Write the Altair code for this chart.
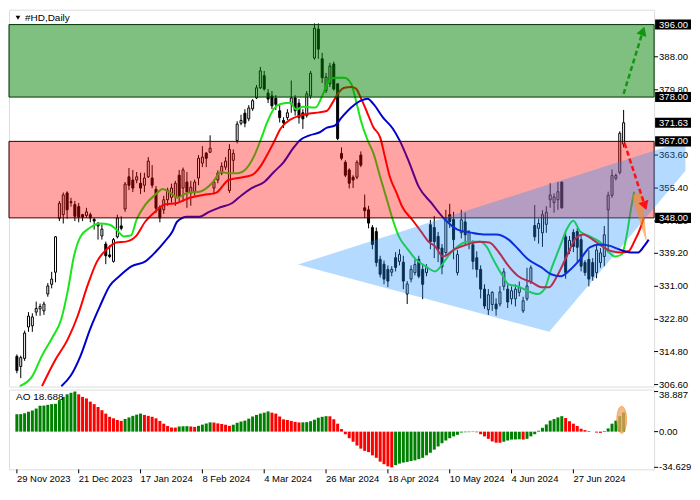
import altair as alt
import pandas as pd

# ---------------- data ----------------
OPEN = [313.6, 311.1, 313.1, 320.9, 321.2, 324.6, 325.4, 324.9, 329.1, 331.5,
        334.5, 347.9, 348.8, 354.2, 352.0, 351.3, 350.8, 348.8, 348.6, 348.8,
        347.6, 346.7, 343.5, 341.5, 338.8, 337.2, 343.3, 346.0, 350.2, 358.2,
        357.4, 357.4, 356.6, 356.1, 358.2, 357.9, 355.1, 350.7, 350.0, 352.5,
        353.1, 353.2, 358.6, 355.4, 356.9, 354.2, 354.4, 357.9, 361.6, 364.1,
        364.3, 355.4, 357.4, 359.1, 360.6, 354.8, 362.3, 367.2, 371.5, 374.0,
        372.6, 375.1, 377.8, 380.3, 383.3, 379.0, 378.3, 377.7, 374.6, 372.2,
        372.9, 376.3, 377.8, 376.5, 374.1, 373.4, 378.3, 387.7, 394.9, 387.5,
        379.6, 381.3, 386.2, 381.3, 364.0, 361.8, 359.9, 358.1, 358.1, 363.6,
        350.5, 350.0, 345.6, 344.6, 337.7, 336.5, 335.2, 334.5, 338.1, 337.2,
        337.0, 329.1, 332.8, 334.4, 337.7, 335.2, 334.4, 346.3, 345.6, 343.4,
        340.5, 339.4, 348.8, 347.6, 334.4, 344.3, 347.0, 342.0, 341.3, 338.1,
        335.2, 330.3, 325.2, 326.5, 326.6, 326.6, 331.0, 330.3, 327.9, 327.9,
        329.5, 324.9, 327.9, 332.2, 346.1, 345.4, 344.3, 346.4, 352.5, 351.8,
        352.5, 356.9, 343.3, 339.8, 344.4, 344.6, 342.6, 336.9, 337.7, 336.9,
        334.4, 336.9, 338.4, 350.0, 353.6, 357.8, 359.3, 366.3]
HIGH = [314.1, 313.8, 320.0, 324.6, 324.3, 327.2, 326.7, 327.2, 331.8, 334.6,
        343.5, 352.2, 354.3, 354.6, 353.0, 352.2, 351.7, 349.0, 350.5, 349.3,
        348.0, 346.9, 346.4, 342.1, 341.2, 343.0, 348.8, 348.4, 356.9, 360.4,
        359.9, 359.4, 359.2, 359.2, 363.1, 361.1, 355.9, 351.1, 353.5, 355.5,
        356.5, 357.2, 359.9, 360.5, 359.4, 357.2, 357.5, 363.6, 365.8, 364.3,
        368.5, 357.5, 359.8, 361.8, 363.1, 366.3, 365.0, 372.0, 373.6, 375.0,
        376.0, 377.5, 381.0, 385.5, 384.5, 380.0, 379.5, 378.5, 376.0, 373.0,
        375.0, 382.1, 378.5, 377.5, 375.0, 379.5, 384.5, 396.3, 396.3, 389.0,
        384.0, 386.5, 386.8, 381.3, 365.5, 362.3, 360.3, 358.6, 362.3, 364.5,
        353.8, 351.0, 346.2, 345.6, 338.6, 337.4, 336.2, 336.0, 339.5, 340.2,
        338.6, 332.3, 336.2, 337.7, 338.6, 336.4, 336.5, 347.5, 348.5, 344.5,
        341.5, 350.0, 351.5, 349.5, 340.0, 350.0, 349.3, 345.0, 342.4, 339.7,
        336.2, 331.5, 330.3, 329.8, 328.0, 331.0, 335.5, 331.5, 331.0, 331.5,
        332.2, 328.4, 335.6, 336.2, 351.2, 347.8, 349.9, 350.9, 356.6, 354.1,
        356.9, 357.0, 344.5, 343.5, 345.2, 345.5, 343.6, 337.5, 340.0, 338.0,
        341.2, 340.5, 346.0, 354.5, 360.0, 359.0, 369.5, 374.8]
LOW = [309.4, 308.2, 312.5, 319.7, 319.7, 323.7, 323.7, 323.9, 328.4, 330.5,
       332.0, 347.2, 346.6, 347.8, 350.8, 347.2, 346.9, 347.2, 348.0, 346.9,
       345.1, 342.6, 342.6, 336.5, 338.0, 336.9, 342.9, 344.9, 349.5, 354.9,
       354.4, 356.6, 353.9, 354.4, 357.9, 355.4, 349.2, 346.9, 349.0, 351.0,
       351.8, 351.0, 352.0, 352.0, 350.5, 351.0, 353.5, 356.1, 360.6, 360.6,
       364.1, 353.8, 356.6, 358.6, 359.9, 354.2, 359.3, 366.5, 371.0, 370.5,
       372.0, 374.6, 377.5, 380.0, 379.6, 376.5, 375.0, 374.8, 371.7, 370.3,
       372.3, 374.1, 373.4, 371.4, 370.1, 372.9, 377.6, 387.3, 387.5, 381.5,
       379.0, 380.5, 379.6, 367.3, 362.3, 358.1, 355.3, 355.4, 357.6, 360.6,
       348.0, 345.4, 340.2, 335.9, 333.2, 331.5, 330.8, 333.5, 334.7, 336.2,
       330.3, 326.6, 332.0, 333.7, 333.0, 327.8, 333.5, 340.2, 338.0, 337.0,
       334.0, 338.6, 345.5, 337.7, 333.7, 342.9, 341.4, 340.2, 335.2, 333.2,
       328.0, 325.4, 323.9, 324.9, 323.7, 326.0, 330.0, 325.6, 326.5, 326.0,
       328.5, 324.4, 327.4, 331.6, 342.3, 341.6, 340.8, 344.3, 350.5, 349.3,
       350.0, 350.3, 332.9, 339.0, 339.5, 337.0, 334.7, 333.6, 331.0, 332.4,
       333.0, 335.6, 336.0, 339.3, 353.0, 357.3, 358.8, 365.5]
CLOSE = [310.1, 313.3, 319.4, 323.6, 323.4, 325.5, 326.0, 326.6, 331.1, 332.8,
         343.3, 351.6, 353.7, 350.0, 351.8, 348.4, 348.2, 348.2, 349.5, 348.0,
         347.2, 346.0, 345.2, 338.6, 338.4, 342.6, 348.0, 345.4, 356.4, 356.1,
         355.4, 358.2, 355.4, 357.9, 362.1, 356.1, 350.4, 348.0, 352.5, 354.9,
         355.4, 356.6, 353.2, 359.9, 354.4, 355.6, 356.9, 362.8, 363.1, 362.8,
         365.3, 356.9, 359.1, 360.8, 362.1, 365.0, 364.0, 371.3, 372.2, 371.5,
         375.3, 377.1, 380.3, 384.5, 380.0, 377.5, 375.8, 376.2, 372.9, 371.6,
         374.1, 377.8, 374.6, 372.9, 372.6, 378.8, 383.9, 395.1, 389.9, 382.8,
         383.0, 385.7, 380.0, 367.7, 362.8, 358.6, 356.6, 357.4, 361.8, 361.1,
         349.8, 346.7, 341.4, 336.9, 334.0, 332.8, 332.3, 335.2, 335.7, 338.9,
         332.3, 331.6, 335.2, 336.4, 333.5, 331.5, 335.6, 342.1, 342.1, 340.2,
         335.8, 348.0, 347.1, 342.6, 338.9, 347.5, 343.8, 344.3, 337.2, 335.2,
         330.3, 326.1, 328.9, 329.5, 325.4, 329.6, 334.6, 327.1, 329.9, 330.3,
         330.8, 327.4, 331.1, 335.6, 343.3, 346.6, 348.8, 349.4, 353.7, 353.2,
         354.5, 350.5, 334.4, 342.4, 340.9, 340.7, 336.0, 334.4, 332.8, 333.5,
         340.0, 339.3, 343.8, 353.6, 358.5, 358.5, 369.0, 371.63]

AO = [16.9, 17.0, 17.8, 19.3, 20.5, 22.4, 25.1, 25.3, 26.0, 26.7,
      27.0, 30.6, 33.7, 36.2, 37.7, 38.887, 36.2, 33.7, 32.2, 29.1,
      26.7, 23.9, 20.8, 17.5, 14.4, 12.9, 11.3, 10.4, 12.3, 13.8,
      15.3, 16.5, 17.5, 16.2, 15.3, 14.4, 12.9, 10.4, 7.7, 5.5,
      4.0, 3.9, 5.0, 5.2, 5.3, 5.0, 4.6, 5.6, 6.8, 7.9,
      9.0, 8.8, 8.0, 7.4, 6.7, 5.6, 6.7, 8.6, 9.8, 10.7,
      12.6, 14.7, 16.2, 17.5, 18.4, 19.6, 18.4, 17.5, 14.7, 11.9,
      11.3, 10.4, 9.5, 8.9, 9.0, 9.2, 10.1, 11.6, 13.5, 14.4,
      15.0, 14.9, 12.0, 7.7, 2.5, -2.5, -6.4, -9.8, -13.5, -16.5,
      -18.7, -19.9, -23.0, -25.4, -29.1, -31.6, -33.7, -34.629, -32.5, -31.0,
      -30.0, -29.4, -28.5, -27.9, -26.7, -25.4, -23.0, -20.5, -17.5, -14.4,
      -11.3, -8.6, -6.4, -4.6, -3.1, -0.9, -0.6, -0.5, -0.4, -0.6,
      -2.5, -4.6, -7.0, -9.5, -10.7, -10.8, -9.8, -8.6, -7.7, -7.6,
      -7.5, -7.7, -7.0, -4.6, -2.5, 0.9, 3.7, 7.0, 10.7, 12.2,
      13.8, 15.0, 13.2, 10.1, 7.7, 5.5, 2.8, 1.5, 0.6, 0.0,
      -0.9, -1.2, 0.6, 3.1, 7.7, 10.7, 15.0, 18.688]

# Alligator lines (bar index, price)
LIPS_K = [0.75, 4, 6.5, 9, 11.5, 13.25, 14.75, 16.5, 19, 21.5, 24, 25.75, 27.75, 29.5, 31,
          33.25, 35.75, 37.75, 39.75, 41.5, 44, 47.25, 50.75, 52.75, 54.75, 57.25, 59, 61.5,
          63.25, 64.75, 66.5, 68.25, 70.75, 72.25, 74, 77.25, 79, 80.75, 82.25, 84.75, 86.5,
          87.75, 89, 90.75, 92.25, 94, 95.75, 97.25, 99, 100.75, 103.25, 105.75, 108.25,
          109.75, 111.5, 114, 116.5, 119.75, 121.5, 123.25, 125.75, 127.25, 129.75, 132.25,
          134.75, 136.5, 138.25, 140.75, 142.25, 144, 145.75, 148.25, 150.75, 153.25, 154.75,
          156.5, 157.75, 159, 159.75]
LIPS_P = [306.2, 308.7, 313.8, 318.0, 322.9, 330.3, 338.4, 343.4, 345.6, 346.6, 346.3, 345.1,
          343.4, 343.6, 347.6, 351.3, 353.7, 355.2, 354.2, 353.0, 354.2, 354.5, 356.9, 359.4,
          359.1, 359.1, 359.9, 363.6, 367.8, 371.7, 375.1, 376.3, 376.6, 374.9, 375.6, 375.4,
          378.3, 382.0, 382.8, 382.8, 381.3, 377.1, 372.2, 367.3, 364.1, 358.2, 352.5, 347.6,
          343.1, 340.7, 337.7, 336.0, 334.7, 336.0, 338.4, 340.9, 342.1, 342.1, 340.9, 337.7,
          333.5, 331.5, 331.0, 329.8, 329.1, 330.3, 335.2, 341.4, 345.1, 347.3, 344.6, 343.4,
          342.1, 339.4, 338.4, 338.9, 343.4, 350.8, 354.5]
TEETH_K = [6.5, 9.75, 13.25, 15.75, 18.25, 20.75, 23.25, 25.75, 28.25, 30.75, 33.25, 35.75,
           38.25, 41.5, 44.75, 48.25, 51.5, 54.75, 57.25, 60.75, 63.25, 64.75, 66.5, 68.25,
           70.75, 73.25, 75.75, 78.25, 80.25, 81.5, 83.25, 84.75, 86.5, 87.75, 89, 90.75,
           92.25, 94, 95.25, 96.5, 98.25, 99.75, 102.25, 104.75, 106.5, 108.25, 110.25,
           113.25, 116.5, 119.75, 122.25, 124.75, 127.25, 129.75, 133.25, 135.75, 137.75,
           139.75, 142.25, 144.75, 146.5, 149, 151.5, 154, 156.5, 158.25, 159.75, 161.5, 162.25]
TEETH_P = [306.2, 312.4, 318.0, 323.7, 331.1, 337.2, 340.2, 341.9, 342.1, 343.4, 347.1, 349.5,
           351.3, 351.7, 353.0, 353.7, 354.2, 357.4, 357.9, 358.6, 361.1, 363.6, 366.8, 370.2,
           372.4, 373.4, 373.9, 374.2, 374.6, 376.3, 379.1, 380.3, 380.5, 380.1, 377.8, 373.9,
           370.5, 368.0, 363.1, 358.2, 354.2, 350.7, 347.6, 344.4, 342.1, 340.9, 338.4, 340.2,
           341.4, 342.1, 341.9, 339.4, 336.0, 333.5, 332.0, 330.8, 330.8, 333.5, 338.4, 343.1,
           343.9, 342.6, 340.9, 339.7, 339.4, 339.7, 342.1, 345.9, 348.1]
JAW_K = [11.5, 14, 16.5, 19, 21.5, 24, 26.5, 29.75, 33.25, 35.75, 38.25, 40.25, 41.5, 44,
         47.25, 49.75, 52.25, 55.75, 58.25, 60.75, 64, 66.5, 69, 71.5, 73.25, 75.75, 78.25,
         80.25, 82.25, 84, 86.5, 89, 90.75, 92.25, 94.75, 97.25, 99, 101.5, 104, 107.25,
         110.75, 114, 117.25, 120.75, 124, 127.25, 129.75, 132.25, 135.75, 138.25, 140.75,
         143.25, 145.75, 148.25, 150.75, 153.25, 155.75, 157.25, 159, 160.75, 162.25, 163.5]
JAW_P = [306.2, 308.9, 313.8, 320.5, 326.1, 331.1, 333.5, 336.0, 337.2, 339.4, 342.1, 344.6,
         347.1, 348.3, 348.3, 349.5, 350.5, 351.7, 353.7, 355.4, 356.9, 359.4, 361.8, 365.3,
         367.3, 368.5, 369.2, 370.4, 370.9, 372.9, 375.4, 377.1, 377.6, 376.3, 372.9, 370.2,
         367.3, 361.8, 355.7, 351.7, 347.6, 345.1, 344.4, 343.9, 343.9, 342.6, 340.2, 337.7,
         335.7, 334.0, 333.5, 335.2, 337.7, 340.7, 341.4, 341.1, 340.2, 339.7, 339.4, 339.4,
         340.9, 342.6]

GREEN_ZONE = [378.0, 396.0]
RED_ZONE = [348.0, 367.0]
TRI_K = [72.75, 137.75, 182.0]      # left, bottom, upper-right vertex (bar index)
TRI_P = [336.4, 319.7, 369.9]
GARROW_K = [157.0, 162.0]
GARROW_P = [378.8, 394.4]
RARROW_K = [157.25, 162.5]
RARROW_P = [366.5, 351.0]
ORANGE_K = [160.6, 162.8]
ORANGE_P = [353.0, 342.6]
ELLIPSE_K = [156.5]
ELLIPSE_V = [11.5]

PRICE_TICKS = [388.0, 379.8, 363.6, 355.4, 347.2, 339.2, 331.0, 322.8, 314.8, 306.6]
BOX_PRICES = [396.0, 378.0, 371.63, 367.0, 348.0]
AO_TICKS = [38.887, 0.0, -34.629]
DATE_TICKS = [0, 16, 32, 48, 64, 80, 96, 112, 128, 144]
DATE_LABELS = ["29 Nov 2023", "21 Dec 2023", "17 Jan 2024", "8 Feb 2024", "4 Mar 2024",
               "26 Mar 2024", "18 Apr 2024", "10 May 2024", "4 Jun 2024", "27 Jun 2024"]
SYMBOL = "#HD,Daily"

# ---------------- layout / styles ----------------
W, H1, H2 = 647, 378, 80
RIGHT = 37                      # width of the price-label column (W + RIGHT = 684)
XDOM = [-0.75, 163.6]
YDOM = [306.1, 399.7]
AODOM = [-36.6, 40.8]
FONT = "Liberation Sans"
FS = 9.5

xs = alt.Scale(domain=XDOM, nice=False, zero=False)
ys = alt.Scale(domain=YDOM, nice=False, zero=False)
aos = alt.Scale(domain=AODOM, nice=False, zero=False)

def X(field="k"):
    return alt.X(f"{field}:Q", scale=xs, axis=None)

def Y(field):
    return alt.Y(f"{field}:Q", scale=ys, axis=None)

def AY(field):
    return alt.Y(f"{field}:Q", scale=aos, axis=None)

n = len(CLOSE)
assert len(OPEN) == len(HIGH) == len(LOW) == n == len(AO)
assert len(LIPS_K) == len(LIPS_P) and len(TEETH_K) == len(TEETH_P) and len(JAW_K) == len(JAW_P)
cdf = pd.DataFrame({"k": list(range(n)), "o": OPEN, "h": HIGH, "l": LOW, "c": CLOSE})

wick = alt.Chart(cdf).mark_rule(color="black", strokeWidth=1).encode(
    x=X(), y=Y("l"), y2="h:Q")
body = alt.Chart(cdf).mark_bar(size=2, stroke="black", strokeWidth=1).encode(
    x=X(), y=Y("o"), y2="c:Q",
    fill=alt.condition("datum.c >= datum.o", alt.value("white"), alt.value("black")))

def aline(K, P, color):
    df = pd.DataFrame({"k": K, "p": P})
    return alt.Chart(df).mark_line(color=color, strokeWidth=2, interpolate="monotone").encode(
        x=X(), y=Y("p"))

lips = aline(LIPS_K, LIPS_P, "#19e619")
teeth = aline(TEETH_K, TEETH_P, "#ff0000")
jaw = aline(JAW_K, JAW_P, "#0000cd")

def zone(lohi, color, op, edge):
    df = pd.DataFrame({"lo": [lohi[0]], "hi": [lohi[1]]})
    return alt.Chart(df).mark_rect(fill=color, fillOpacity=op, stroke=edge, strokeWidth=1).encode(
        x=alt.value(0), x2=alt.value(W), y=Y("lo"), y2="hi:Q")

gzone = zone(GREEN_ZONE, "#008000", 0.5, "#003300")
rzone = zone(RED_ZONE, "#ff0000", 0.36, "#330000")

# blue triangle, cut at the right edge of the picture (its third vertex is off-screen)
k_edge = XDOM[0] + (W + RIGHT) / W * (XDOM[1] - XDOM[0])
def on_edge(a, b, k):
    return TRI_P[a] + (TRI_P[b] - TRI_P[a]) * (k - TRI_K[a]) / (TRI_K[b] - TRI_K[a])
tdf = pd.DataFrame({
    "k": [TRI_K[0], TRI_K[1], k_edge],
    "top": [TRI_P[0], on_edge(0, 2, TRI_K[1]), on_edge(0, 2, k_edge)],
    "bot": [TRI_P[0], TRI_P[1], on_edge(1, 2, k_edge)],
})
tri = alt.Chart(tdf).mark_area(color="#1e90ff", opacity=0.33, clip=False).encode(
    x=X(), y=Y("top"), y2="bot:Q")

def dashed(K, P, color):
    df = pd.DataFrame({"k": K, "p": P})
    return alt.Chart(df).mark_line(color=color, strokeWidth=2.5, strokeDash=[5, 3]).encode(
        x=X(), y=Y("p"))

def head(k, p, color, shape, ang):
    df = pd.DataFrame({"k": [k], "p": [p]})
    return alt.Chart(df).mark_point(shape=shape, filled=True, color=color, opacity=1,
                                    size=110, angle=ang).encode(x=X(), y=Y("p"))

garrow = dashed(GARROW_K, GARROW_P, "#129612")
ghead = head(GARROW_K[1], GARROW_P[1], "#129612", "triangle-up", 19)
rarrow = dashed(RARROW_K, RARROW_P, "#ff1010")
rhead = head(RARROW_K[1], RARROW_P[1], "#ff1010", "triangle-down", 341)

odf = pd.DataFrame({"k": ORANGE_K, "p": ORANGE_P, "i": [0, 1]})
orange = alt.Chart(odf).transform_calculate(w="datum.i == 0 ? 10 : 1").mark_trail(
    color="#ff8c1a", opacity=0.6).encode(x=X(), y=Y("p"), size=alt.Size("w:Q", scale=None, legend=None))

# price scale on the right (drawn by hand)
tdf_p = pd.DataFrame({"p": PRICE_TICKS})
pticks = alt.Chart(tdf_p).mark_rule(color="black", strokeWidth=1).encode(
    x=alt.value(W), x2=alt.value(W + 4), y=Y("p"))
plabels = alt.Chart(tdf_p).transform_calculate(t="format(datum.p, '.2f')").mark_text(
    align="left", baseline="middle", color="black", font=FONT, fontSize=FS).encode(
    x=alt.value(W + 5), y=Y("p"), text="t:N")

bdf = pd.DataFrame({"p": BOX_PRICES})
boxes = alt.Chart(bdf).transform_calculate(lo="datum.p - 1.25", hi="datum.p + 1.25").mark_rect(
    color="black").encode(x=alt.value(W + 1), x2=alt.value(W + RIGHT), y=Y("lo"), y2="hi:Q")
boxtext = alt.Chart(bdf).transform_calculate(t="format(datum.p, '.2f')").mark_text(
    align="left", baseline="middle", color="white", font=FONT, fontSize=FS).encode(
    x=alt.value(W + 5), y=Y("p"), text="t:N")

hdr_tri = alt.Chart(pd.DataFrame({"a": [0]})).mark_point(
    shape="triangle-down", filled=True, color="black", opacity=1, size=22).encode(
    x=alt.value(9), y=alt.value(8))
hdr_txt = alt.Chart(pd.DataFrame({"t": [SYMBOL]})).mark_text(
    align="left", baseline="middle", font=FONT, fontSize=FS + 0.5, color="black").encode(
    x=alt.value(16), y=alt.value(8), text="t:N")

main = alt.layer(wick, body, lips, teeth, jaw, gzone, rzone, pticks, plabels, tri, garrow, ghead,
                 orange, rarrow, rhead, boxes, boxtext, hdr_tri, hdr_txt).properties(width=W, height=H1)

# ---------------- AO panel ----------------
adf = pd.DataFrame({"k": list(range(n)), "v": AO})
adf["dir"] = ["up" if i == 0 or AO[i] >= AO[i - 1] else "down" for i in range(n)]

aobars = alt.Chart(adf).mark_bar(size=3).encode(
    x=X(), y=AY("v"), y2=alt.datum(0),
    color=alt.Color("dir:N", scale=alt.Scale(domain=["up", "down"], range=["#008000", "#ff0000"]),
                    legend=None))
edf = pd.DataFrame({"k": ELLIPSE_K, "v": ELLIPSE_V})
ellipse = alt.Chart(edf).mark_point(
    shape="M0,-1A0.36,1,0,1,1,0,1A0.36,1,0,1,1,0,-1Z", size=729, filled=True,
    color="#f4a460", opacity=0.75, stroke="#f08a30", strokeWidth=1).encode(x=X(), y=AY("v"))
aolabel = alt.Chart(pd.DataFrame({"t": [f"AO {AO[-1]:.3f}"]})).mark_text(
    align="left", baseline="middle", font=FONT, fontSize=FS + 0.5, color="black").encode(
    x=alt.value(7), y=alt.value(7), text="t:N")

adf_t = pd.DataFrame({"v": AO_TICKS, "i": list(range(len(AO_TICKS)))})
aoticks = alt.Chart(adf_t).mark_rule(color="black", strokeWidth=1).encode(
    x=alt.value(W), x2=alt.value(W + 4), y=AY("v"))
aolab_base = alt.Chart(adf_t).transform_calculate(
    t="datum.v == 0 ? '0.00' : '' + datum.v")
# the top label hangs below its tick, as in the reference, so it clears the price scale above
aolab_top = aolab_base.transform_filter("datum.i == 0").mark_text(
    align="left", baseline="top", dy=-2, color="black", font=FONT, fontSize=FS).encode(
    x=alt.value(W + 5), y=AY("v"), text="t:N")
aolab_rest = aolab_base.transform_filter("datum.i > 0").mark_text(
    align="left", baseline="middle", color="black", font=FONT, fontSize=FS).encode(
    x=alt.value(W + 5), y=AY("v"), text="t:N")

ddf = pd.DataFrame({"k": DATE_TICKS, "t": DATE_LABELS})
dticks = alt.Chart(ddf).mark_rule(color="black", strokeWidth=1).encode(
    x=X(), y=alt.value(H2), y2=alt.value(H2 + 4))
dlabels = alt.Chart(ddf).mark_text(
    align="left", baseline="top", color="black", font=FONT, fontSize=FS).encode(
    x=X(), y=alt.value(H2 + 5), text="t:N")

ao = alt.layer(aobars, ellipse, aolabel, aoticks, aolab_top, aolab_rest, dticks, dlabels).properties(
    width=W, height=H2)

chart = alt.vconcat(main, ao, spacing=3, bounds="flush").properties(padding=0).configure_view(
    stroke="black", strokeWidth=1).configure(font=FONT, background="white")

chart.save("out.html", embed_options={"renderer": "svg", "actions": False})
